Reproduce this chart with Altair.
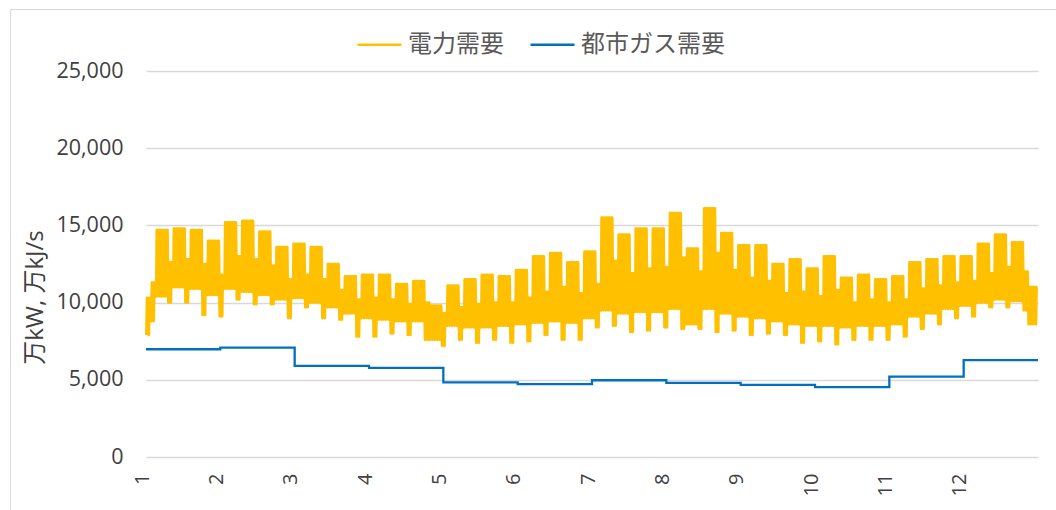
import altair as alt
import pandas as pd

# Month labels on the category axis
months = list(range(1, 13))

# City gas demand, monthly average (万kJ/s)
gas = [6980, 7080, 5900, 5770, 4830, 4720, 4970, 4800, 4670, 4520, 5210, 6280]

# Electricity demand (万kW), read week by week: daytime plateau and night trough.
# Week 0 = Thu Jan 1 .. Sun Jan 4, weeks 1..51 run Mon..Sun, week 52 = Mon Dec 28 .. Thu Dec 31.
wk_peak = [10300,
           14700, 14800, 14700, 14000, 15200, 15300, 14600, 13600, 13800, 13600,
           12500, 11700, 11800, 11800, 11200, 11400, 9800, 11100, 11500, 11800,
           11700, 12100, 13000, 13200, 12600, 13300, 15500, 14400, 14800, 14800,
           15800, 13500, 16100, 14500, 13700, 13700, 12500, 12800, 12200, 13000,
           11600, 11800, 11500, 11700, 12600, 12800, 13000, 13000, 13800, 14400,
           13900, 11000]
wk_low = [7900,
          10400, 11000, 10900, 10500, 10900, 10700, 10500, 10200, 10300, 10000,
          9700, 9300, 9000, 8900, 8800, 8800, 7600, 8500, 8400, 8400,
          8500, 8600, 8700, 8800, 8700, 9000, 9500, 9300, 9400, 9400,
          9600, 8600, 9600, 9300, 9100, 9000, 8800, 8600, 8500, 8500,
          8400, 8500, 8500, 8600, 9100, 9300, 9600, 9800, 10000, 10200,
          10100, 8600]
we_peak = [11300,
           12600, 12800, 12500, 11800, 13000, 12800, 12400, 11500, 11800, 11500,
           10800, 10200, 10300, 10200, 9900, 10000, 9300, 9700, 9900, 10000,
           10000, 10300, 10700, 11000, 10600, 11200, 12700, 11900, 12200, 12300,
           12900, 12000, 13200, 12100, 11600, 11400, 10600, 10700, 10400, 10800,
           10000, 10200, 10000, 10200, 10900, 11100, 11300, 11400, 11900, 12300,
           12000]
we_low = [8800,
          10000, 10000, 9200, 9100, 10200, 9900, 9900, 9000, 9700, 9000,
          8900, 7800, 7800, 8000, 7900, 7600, 7200, 7600, 7400, 7600,
          7400, 7500, 7900, 7600, 7600, 8400, 8500, 8100, 8200, 8400,
          8300, 8300, 8100, 8200, 7900, 8000, 7900, 7400, 7500, 7300,
          7600, 7600, 7600, 7800, 8300, 8600, 9000, 9100, 9700, 9700,
          9500]

ELEC = "電力需要"
GAS = "都市ガス需要"
HOURS_PER_MONTH = 730  # 8760 hours split into 12 equal axis steps

rows = []
for d in range(365):
    if d < 4:
        w, dow = 0, d + 3
    else:
        w, dow = 1 + (d - 4) // 7, (d - 4) % 7
    if dow >= 5:
        lo, hi = we_low[w], we_peak[w]
    else:
        lo, hi = wk_low[w], wk_peak[w]
    # night trough, then the daytime level from morning to evening
    for hour, val in ((4, lo), (10, hi), (19, hi)):
        rows.append({"month": 1 + (d * 24 + hour) / HOURS_PER_MONTH,
                     "value": val, "series": ELEC})
elec_df = pd.DataFrame(rows)

gas_df = pd.DataFrame({
    "month": months + [13],
    "value": gas + [gas[-1]],
    "series": GAS,
})

AXIS_FONT = "Open Sans"
JP_FONT = "Noto Sans CJK JP"

color = alt.Color(
    "series:N",
    scale=alt.Scale(domain=[ELEC, GAS], range=["#FFC000", "#0070C0"]),
    title=None,
    legend=alt.Legend(
        orient="none", legendX=210, legendY=-50, direction="horizontal",
        symbolType="stroke", symbolSize=1936, symbolStrokeWidth=2.5,
        labelFont=JP_FONT, labelFontSize=24, labelColor="#595959",
        labelOffset=5, columnPadding=21, padding=0,
    ),
)

x = alt.X(
    "month:Q",
    scale=alt.Scale(domain=[1, 13], nice=False, zero=False),
    axis=alt.Axis(
        values=months, format="d", labelAngle=270, labelFont=AXIS_FONT,
        labelFontSize=20, labelColor="#404040", labelPadding=16, labelOffset=-4,
        ticks=False, tickSize=0, domain=False, grid=False, labelFlush=False,
    ),
    title=None,
)

y = alt.Y(
    "value:Q",
    scale=alt.Scale(domain=[0, 25000], nice=False),
    axis=alt.Axis(
        values=[0, 5000, 10000, 15000, 20000, 25000], format=",d",
        labelFont=AXIS_FONT, labelFontSize=21.5, labelColor="#404040",
        labelPadding=23, ticks=False, tickSize=0, domain=False,
        grid=True, gridColor="#D9D9D9", gridWidth=1.3,
        titleFont="Open Sans, Noto Sans CJK JP", titleFontSize=24,
        titleFontWeight="normal", titleColor="#404040", titleAngle=270,
        titleAlign="center", titleBaseline="middle", titleX=-111, titleY=226,
    ),
    title="万kW, 万kJ/s",
)

elec = alt.Chart(elec_df).mark_line(strokeWidth=2.7, strokeJoin="round").encode(
    x=x, y=y, color=color
)
gas_line = alt.Chart(gas_df).mark_line(strokeWidth=2.3, interpolate="step-after").encode(
    x=x, y=y, color=color
)

frame = alt.Chart(pd.DataFrame({"k": [0]})).mark_rect(
    fill="transparent", stroke="#D9D9D9", strokeWidth=1
).encode(
    x=alt.value(-135.5), x2=alt.value(1000), y=alt.value(-61.5), y2=alt.value(600)
)

chart = alt.layer(frame, elec, gas_line).properties(
    width=892, height=386,
    autosize=alt.AutoSizeParams(type="none"),
    padding={"left": 146, "top": 71, "right": 18, "bottom": 53},
    background="white",
).configure_view(strokeWidth=0)

chart.save("out.html", embed_options={"renderer": "svg", "actions": False})
